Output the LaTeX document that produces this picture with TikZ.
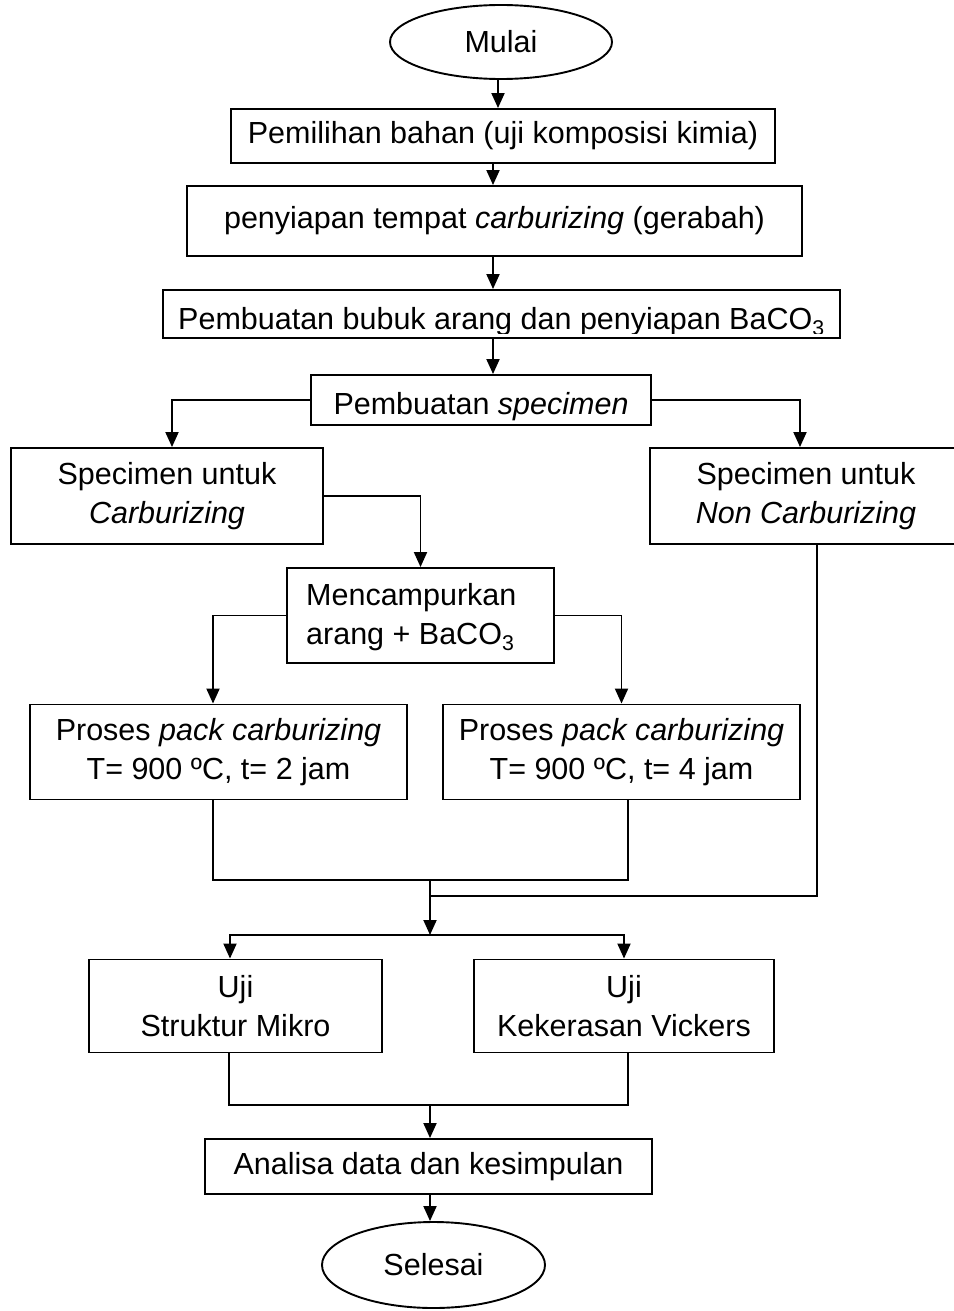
\documentclass[tikz,border=0pt]{standalone}
\usepackage{fontspec}
\setmainfont{Liberation Sans}
\usetikzlibrary{shapes.geometric,arrows.meta,calc}
\newcommand\fsz{\fontsize{30.5}{39}\selectfont}
\begin{document}
\begin{tikzpicture}[x=1pt,y=-1pt,
  box/.style={draw, line width=1.9pt, inner sep=0pt, align=center, font=\fsz},
  oval/.style={ellipse, draw, line width=1.9pt, inner sep=0pt, font=\fsz},
  txt/.style={inner sep=0pt, align=center, font=\fsz},
  link/.style={line width=1.9pt},
  arr/.style={line width=1.9pt, -{Triangle[length=15pt,width=13pt]}}]
\useasboundingbox (0,0) rectangle (953,1311);

\node[oval, minimum width=222pt, minimum height=74pt] (mulai) at (501,42) {Mulai};
\node[box, minimum width=544pt, minimum height=54pt] (b1) at (503,136) {Pemilihan bahan (uji komposisi kimia)};
\node[box, minimum width=615pt, minimum height=70pt] (b2) at (494.5,221) {penyiapan tempat \textit{carburizing} (gerabah)};
\node[box, minimum width=677pt, minimum height=48pt] (b3) at (501.5,314) {};
\node[box, minimum width=340pt, minimum height=50pt] (b4) at (481,400) {};
\node[box, minimum width=312pt, minimum height=96pt] (b5) at (167,496) {Specimen untuk\\\textit{Carburizing}};
\node[box, minimum width=312pt, minimum height=96pt] (b6) at (806,496) {Specimen untuk\\\textit{Non Carburizing}};
\node[box, minimum width=267pt, minimum height=95pt] (b7) at (420.5,615.5) {};
\node[txt, align=left, anchor=west] (t7) at (306,617) {Mencampurkan\\arang + BaCO\textsubscript{3}};
\node[box, minimum width=377pt, minimum height=95pt] (b8) at (218.5,752) {Proses \textit{pack carburizing}\\T= 900 ºC, t= 2 jam};
\node[box, minimum width=357pt, minimum height=95pt] (b9) at (621.5,752) {Proses \textit{pack carburizing}\\T= 900 ºC, t= 4 jam};
\node[box, minimum width=293pt, minimum height=93pt] (b10) at (235.5,1006) {Uji\\Struktur Mikro};
\node[box, minimum width=300pt, minimum height=93pt] (b11) at (624,1006) {Uji\\Kekerasan Vickers};
\node[box, minimum width=447pt, minimum height=55pt] (b12) at (428.5,1166.5) {Analisa data dan kesimpulan};
\node[oval, minimum width=223pt, minimum height=86pt] (selesai) at (433.5,1265) {Selesai};

% texts clipped at the bottom, as in the reference
\begin{scope}
  \clip (b3.north west) rectangle (840,333.5);
  \node[txt, anchor=base] (t3) at (501.5,329.5) {Pembuatan bubuk arang dan penyiapan BaCO\textsubscript{3}};
\end{scope}
\begin{scope}
  \clip (b4.north west) rectangle (651,420.5);
  \node[txt, anchor=base] (t4) at (481,414) {Pembuatan \textit{specimen}};
\end{scope}

\coordinate (s0) at (498,0);
\coordinate (cx) at (493,0);
\coordinate (l1) at (172,0);
\coordinate (r1) at (800,0);
\coordinate (l2) at (213,0);
\coordinate (r2) at (628,0);
\coordinate (r3) at (817,0);
\coordinate (l3) at (230,0);
\coordinate (l4) at (229,0);
\coordinate (m1) at (430,880);
\coordinate (m2) at (430,896);
\coordinate (sp) at (430,935);
\coordinate (m3) at (430,1105);

\draw[arr] (s0 |- mulai.south) -- (s0 |- b1.north);
\draw[arr] (cx |- b1.south) -- (cx |- b2.north);
\draw[arr] (cx |- b2.south) -- (cx |- b3.north);
\draw[arr] (cx |- b3.south) -- (cx |- b4.north);
\draw[arr] (b4.west) -| (l1 |- b5.north);
\draw[arr] (b4.east) -| (r1 |- b6.north);
\draw[arr] (b5.east) -| (b7.north);
\draw[arr] (b7.west) -| (l2 |- b8.north);
\draw[arr] (b7.east) -| (b9.north);
\draw[link] (l2 |- b8.south) |- (r2 |- m1) -- (r2 |- b9.south);
\draw[link] (r3 |- b6.south) |- (m2);
\draw[arr] (m1) -- (sp);
\draw[arr] (sp) -| (l3 |- b10.north);
\draw[arr] (sp) -| (b11.north);
\draw[link] (l4 |- b10.south) |- (r2 |- m3) -- (r2 |- b11.south);
\draw[arr] (m3) -- (m3 |- b12.north);
\draw[arr] (m3 |- b12.south) -- (m3 |- selesai.north);
\end{tikzpicture}
\end{document}
